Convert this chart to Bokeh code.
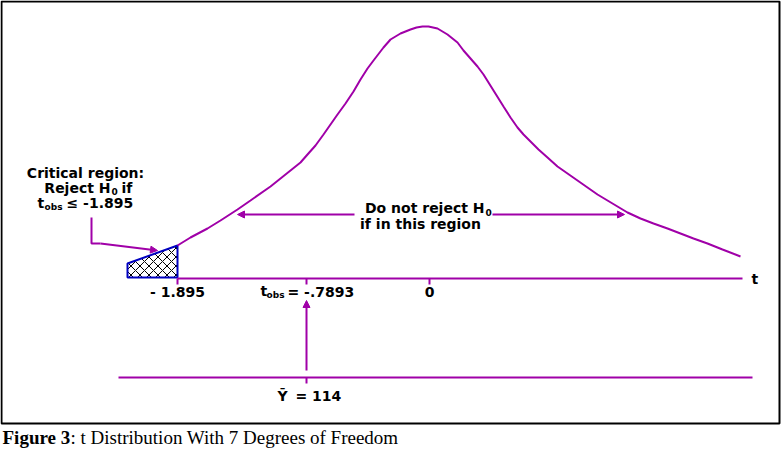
from bokeh.plotting import figure
from bokeh.models import Range1d, Arrow, NormalHead
from bokeh.core.properties import value
from bokeh.embed import file_html
from bokeh.resources import INLINE

# ---- data (diagram units; y grows downward) ----
curve_x = [177, 190, 207, 220, 237, 250, 270, 280, 290, 300, 307, 315, 323, 330, 337, 345,
           353, 360, 367, 373, 383, 390, 400, 410, 416, 422, 428, 437, 447, 457, 463, 470,
           477, 483, 488, 493, 498, 503, 510, 517, 523, 530, 538, 547, 557, 567, 577, 587,
           597, 607, 617, 627, 640, 653, 667, 680, 693, 707, 722, 740]
curve_y = [245, 237, 228, 220, 209, 200, 186, 178, 170, 162, 154, 145, 134, 124, 114, 103,
           91, 79, 68, 60, 47, 39, 33, 29, 27, 26, 26, 28, 34, 42, 50, 58,
           66, 74, 82, 90, 98, 106, 117, 127, 134, 141, 149, 157, 166, 173, 180, 187,
           194, 200, 206, 212, 218, 223, 228, 233, 238, 243, 249, 256]
region_x = [127, 177, 177, 127]
region_y = [263, 245, 277, 277]
tick_pos = [177, 306, 429]          # -1.895, t_obs, 0
tick_labels = ["- 1.895", "= -.7893", "0"]
ybar_pos = 306
ybar_label = "= 114"

PURPLE = "#a000a8"
BLUE = "#0000c0"
FONT = value("DejaVu Sans")
FS = "14px"
SUB = "9px"

p = figure(width=781, height=452, output_backend="svg", toolbar_location=None,
           x_range=Range1d(0, 781), y_range=Range1d(452, 0),
           min_border=0)
p.axis.visible = False
p.grid.visible = False
p.outline_line_color = None
p.background_fill_color = "white"


def label(x, y, txt, align="left", size=FS, font=FONT, style="bold"):
    p.text(x=[x], y=[y], text=[txt], text_align=align, text_baseline="middle",
           text_font=font, text_font_style=style, text_font_size=size, text_color="black")


def arrow(x0, y0, x1, y1):
    p.add_layout(Arrow(x_start=x0, y_start=y0, x_end=x1, y_end=y1, line_color=PURPLE,
                       line_width=2,
                       end=NormalHead(size=7, fill_color=PURPLE, line_color=PURPLE)))


# frame box
p.quad(left=[1], right=[779], top=[1], bottom=[423], fill_color=None,
       line_color="black", line_width=2)

# critical region
p.patch(region_x, region_y, fill_color="white", line_color=BLUE, line_width=2,
        hatch_pattern="x", hatch_color="black", hatch_scale=9, hatch_weight=1)

# curve
p.line(curve_x, curve_y, line_color=PURPLE, line_width=2)

# baseline with ticks
p.line([tick_pos[0], 742], [278, 278], line_color=PURPLE, line_width=2)
for tx in tick_pos:
    p.line([tx, tx], [278, 284], line_color=PURPLE, line_width=2)

# tick labels
label(tick_pos[0], 291, tick_labels[0], align="center")
label(260, 290, "t")
label(266, 294, "obs", size=SUB)
label(287, 291, tick_labels[1])
label(tick_pos[2], 291, tick_labels[2], align="center")
label(751, 278, "t")

# critical region annotation
label(85, 172, "Critical region:", align="center")
label(110, 187, "Reject H", align="right")
label(111, 191, "0", size=SUB)
label(121, 187, "if")
label(37, 202, "t")
label(44, 206, "obs", size=SUB)
label(66, 202, "\u2264 -1.895")
p.line([91, 91, 100], [217, 243, 243], line_color=PURPLE, line_width=2)
arrow(100, 243, 157, 250)

# do-not-reject annotation
label(484, 207, "Do not reject H", align="right")
label(485, 212, "0", size=SUB)
label(420, 223, "if in this region", align="center")
arrow(354, 214, 237, 214)
arrow(492, 214, 624, 214)

# Y-bar scale
arrow(ybar_pos, 370, ybar_pos, 300)
p.line([118, 752], [377, 377], line_color=PURPLE, line_width=2)
p.line([ybar_pos, ybar_pos], [377, 383], line_color=PURPLE, line_width=2)
label(282, 395, "\u0232", align="center")
label(295, 395, ybar_label)

# caption
label(2, 437, "Figure 3", font=value("Liberation Serif"), size="19px")
label(70, 437, ": t Distribution With 7 Degrees of Freedom",
      font=value("Liberation Serif"), size="19px", style="normal")

open("out.html", "w").write(file_html(p, INLINE))
